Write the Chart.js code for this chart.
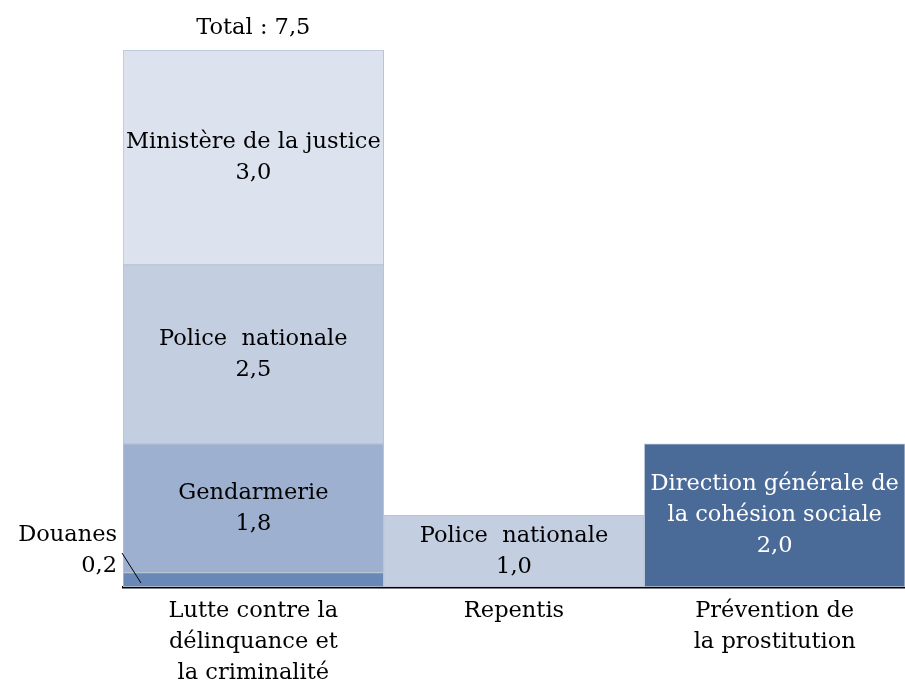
<!DOCTYPE html>
<html>
<head>
<meta charset="utf-8">
<script src="https://cdn.jsdelivr.net/npm/chart.js@4/dist/chart.umd.min.js"></script>
<style>
  body { margin: 0; background: #fff; }
  canvas { display: block; }
</style>
</head>
<body>
<canvas id="chart" width="905" height="686"></canvas>
<script>
var categories = [
    ['Lutte contre la', 'délinquance et', 'la criminalité'],
    ['Repentis'],
    ['Prévention de', 'la prostitution']
];

// one array per segment, null where the segment is absent
var douanes = [0.2, null, null];
var gendarmerie = [1.8, null, null];
var police = [2.5, 1.0, null];
var justice = [3.0, null, null];
var cohesion = [null, null, 2.0];

var segmentNames = [
    ['Douanes'],
    ['Gendarmerie'],
    ['Police  nationale'],
    ['Ministère de la justice'],
    ['Direction générale de', 'la cohésion sociale']
];

var totalLabel = 'Total : ';
var FONT = '"DejaVu Serif", serif';
var FSIZE = 22.5;

function fmt(v) {
    return v.toFixed(1).replace('.', ',');
}

var labelPlugin = {
    id: 'segLabels',
    afterDatasetsDraw: function(chart) {
        var ctx = chart.ctx;
        ctx.save();
        ctx.font = FSIZE + 'px ' + FONT;
        ctx.textBaseline = 'middle';
        var lh = 31;
        chart.data.datasets.forEach(function(ds, i) {
            var meta = chart.getDatasetMeta(i);
            meta.data.forEach(function(bar, j) {
                var v = ds.data[j];
                if (v === null) return;
                var lines = segmentNames[i].concat([fmt(v)]);
                if (i === 0) {
                    // douanes: label outside with leader line
                    var left = bar.x - bar.width / 2;
                    ctx.textAlign = 'right';
                    ctx.fillStyle = '#000';
                    ctx.fillText(lines[0], left - 6, bar.base - 52);
                    ctx.fillText(lines[1], left - 6, bar.base - 21);
                    ctx.strokeStyle = '#000';
                    ctx.lineWidth = 1;
                    ctx.beginPath();
                    ctx.moveTo(left - 1, bar.base - 34);
                    ctx.lineTo(left + 18, bar.base - 4);
                    ctx.stroke();
                    return;
                }
                ctx.textAlign = 'center';
                ctx.fillStyle = ds.labelColor;
                var cy = (bar.y + bar.base) / 2;
                var y0 = cy - (lines.length - 1) * lh / 2;
                lines.forEach(function(t, k) {
                    ctx.fillText(t, bar.x, y0 + k * lh);
                });
            });
        });

        // total above first bar
        var total = douanes[0] + gendarmerie[0] + police[0] + justice[0];
        var xPix = chart.scales.x.getPixelForValue(0);
        var yPix = chart.scales.y.getPixelForValue(total);
        ctx.textAlign = 'center';
        ctx.fillStyle = '#000';
        ctx.fillText(totalLabel + fmt(total), xPix, yPix - 22);
        ctx.restore();
    }
};

function seg(label, data, color, textColor) {
    return {
        label: label,
        data: data,
        backgroundColor: color,
        borderColor: '#b8c3d4',
        borderWidth: 1,
        borderSkipped: false,
        labelColor: textColor,
        categoryPercentage: 1.0,
        barPercentage: 1.0
    };
}

var chart = new Chart(document.getElementById('chart').getContext('2d'), {
    type: 'bar',
    data: {
        labels: categories,
        datasets: [
            seg('Douanes', douanes, '#6a88b6', '#000'),
            seg('Gendarmerie', gendarmerie, '#9db0cf', '#000'),
            seg('Police nationale', police, '#c3cee1', '#000'),
            seg('Ministère de la justice', justice, '#dce3ee', '#000'),
            seg('Direction générale de la cohésion sociale', cohesion, '#4a6a98', '#fff')
        ]
    },
    options: {
        responsive: false,
        animation: false,
        layout: { padding: { left: 123, right: 0, top: 50, bottom: 0 } },
        plugins: {
            legend: { display: false },
            tooltip: { enabled: false }
        },
        scales: {
            x: {
                stacked: true,
                grid: { display: false },
                border: { display: true, color: '#000', width: 2.5 },
                ticks: {
                    color: '#000',
                    font: { family: FONT, size: FSIZE, lineHeight: 1.38 },
                    padding: 1,
                    autoSkip: false,
                    maxRotation: 0
                },
                afterFit: function(scale) { scale.height = 99; }
            },
            y: {
                stacked: true,
                display: false,
                min: 0,
                max: 7.5
            }
        }
    },
    plugins: [labelPlugin]
});
</script>
</body>
</html>
